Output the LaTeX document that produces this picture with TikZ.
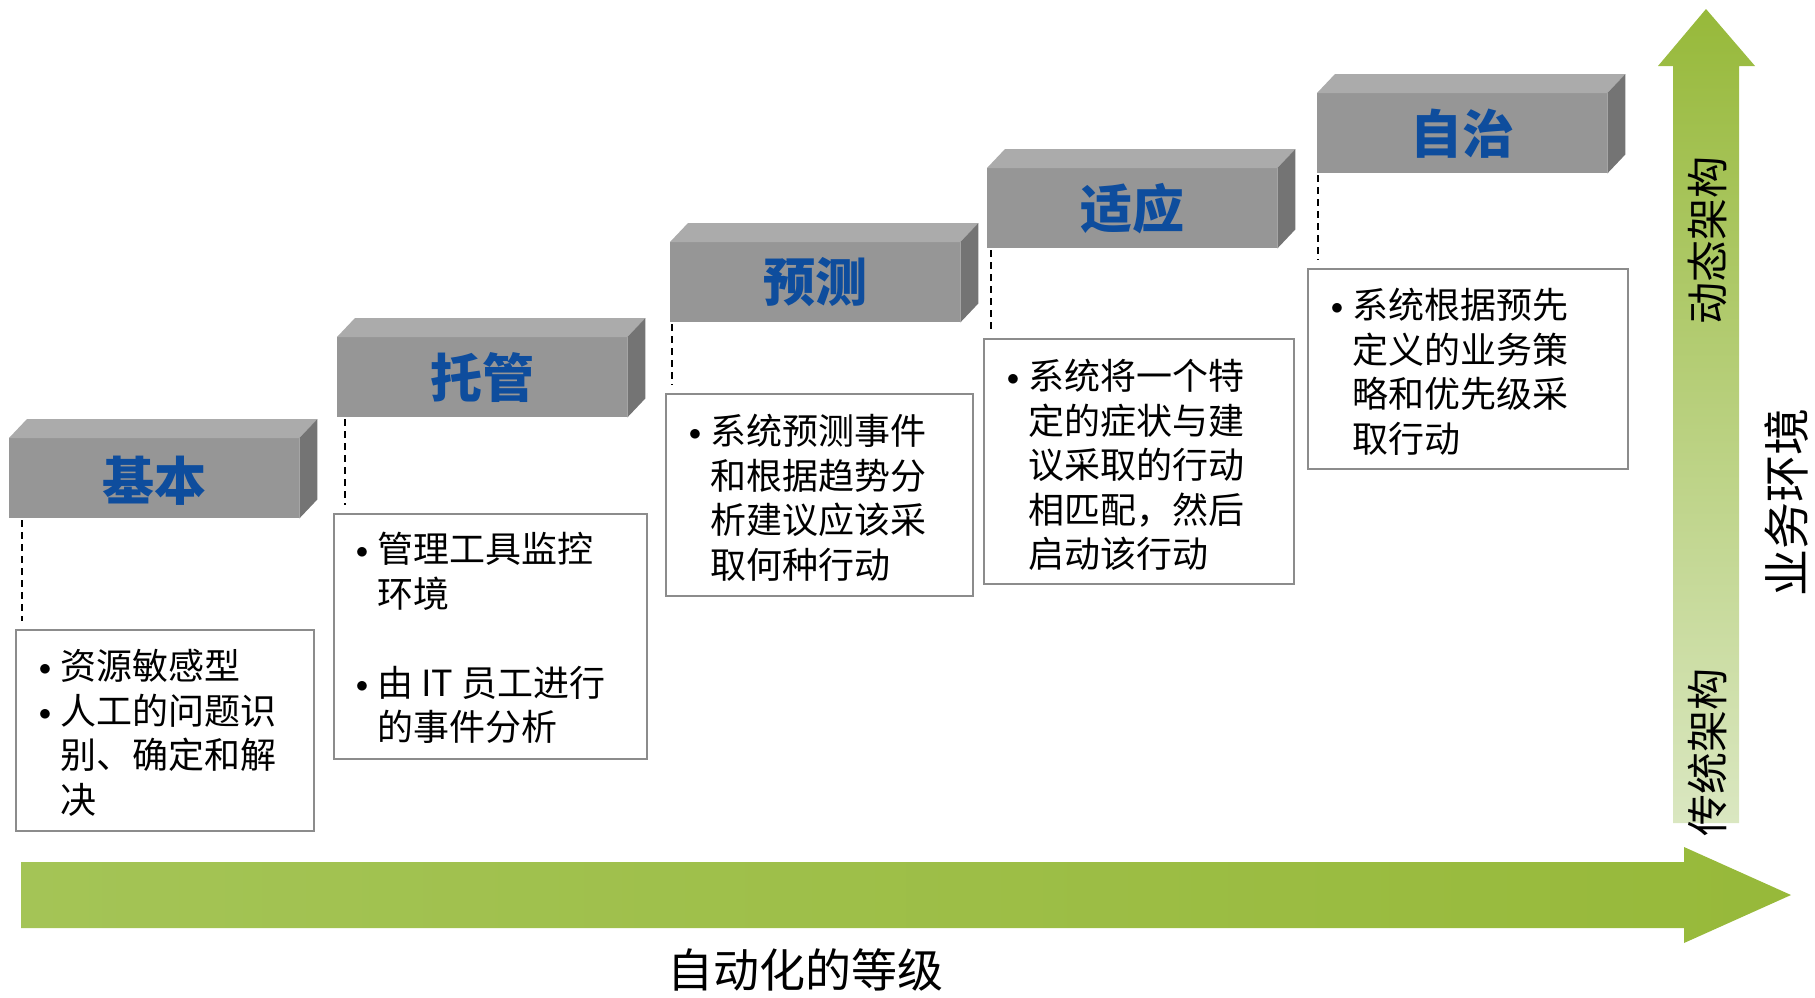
\documentclass[tikz,border=0pt]{standalone}
\usepackage{fontspec}
\newfontfamily\cjk{Noto Sans CJK SC}
\usetikzlibrary{positioning}
\definecolor{facefront}{RGB}{150,150,150}
\definecolor{facetop}{RGB}{171,171,171}
\definecolor{faceside}{RGB}{116,116,116}
\definecolor{titleblue}{RGB}{14,77,157}
\definecolor{notegray}{RGB}{140,140,140}
\definecolor{greendark}{RGB}{151,185,58}
\definecolor{greenmid}{RGB}{164,196,86}
\definecolor{greenpale}{RGB}{218,231,193}
\newcommand\itemdot{\llap{\raisebox{4pt}{$\bullet$}\hspace{9pt}}}

\begin{document}
\begin{tikzpicture}[x=1pt, y=-1pt,
stage/.style = {fill=facefront, minimum width=290, minimum height=80,
                anchor=north west, inner sep=0, text=titleblue,
                font=\cjk\bfseries\fontsize{52}{52}\selectfont},
notebox/.style = {draw=notegray, line width=1.5pt, fill=white, anchor=north west},
notetext/.style = {anchor=north west, align=left, inner sep=0,
                   font=\cjk\fontsize{36}{44.6}\selectfont},
dashlink/.style = {dash pattern=on 7pt off 5pt, line width=2pt,
                   shorten <=2pt, shorten >=8pt},
axisname/.style = {font=\cjk\fontsize{42}{42}\selectfont, rotate=90}
                        ]
\useasboundingbox (0,0) rectangle (1815,997);
% axes
\shade[top color=greendark, bottom color=greenpale]
    (1673,823) -- (1673,66) -- (1658,66) -- (1706,9) -- (1755,66) -- (1739,66) -- (1739,823) -- cycle;
\shade[left color=greenmid, right color=greendark]
    (21,862) -- (1684,862) -- (1684,847) -- (1791,895) -- (1684,943) -- (1684,928) -- (21,928) -- cycle;
\node (level)  at (805,970)  [font=\cjk\fontsize{46}{46}\selectfont] {自动化的等级};
\node (dyn)    at (1707,240) [axisname] {动态架构};
\node (trad)   at (1707,752) [axisname] {传统架构};
\node (biz)    at (1787,502) [axisname, font=\cjk\fontsize{47}{47}\selectfont] {业务环境};
% stages
\node (b1) at (9,438)    [stage, text depth=-8pt] {基本};
\node (b2) at (337,337)  [stage] {托管};
\node (b3) at (670,242)  [stage] {预测};
\node (b4) at (987,168)  [stage] {适应};
\node (b5) at (1317,93)  [stage] {自治};
\foreach \n in {b1,b2,b3,b4,b5}
{
\fill[facetop]  (\n.north west) -- ++(18,-19) -- ([shift={(18,-19)}] \n.north east) -- (\n.north east) -- cycle;
\fill[faceside] (\n.north east) -- ++(18,-19) -- ([shift={(18,-19)}] \n.south east) -- (\n.south east) -- cycle;
}
% notes
\node (t1) at (15,629)   [notebox, minimum width=298, minimum height=201] {};
\node (t2) at (333,513)  [notebox, minimum width=313, minimum height=245] {};
\node (t3) at (665,393)  [notebox, minimum width=307, minimum height=202] {};
\node (t4) at (983,338)  [notebox, minimum width=310, minimum height=245] {};
\node (t5) at (1307,268) [notebox, minimum width=320, minimum height=200] {};
%
\node (x1) at ([shift={(45,20)}] t1.north west) [notetext]
    {\itemdot 资源敏感型\\ \itemdot 人工的问题识\\ 别、确定和解\\ 决};
\node (x2) at ([shift={(44,19)}] t2.north west) [notetext]
    {\itemdot 管理工具监控\\ 环境\\[44.6pt] \itemdot 由 IT 员工进行\\ 的事件分析};
\node (x3) at ([shift={(45,21)}] t3.north west) [notetext]
    {\itemdot 系统预测事件\\ 和根据趋势分\\ 析建议应该采\\ 取何种行动};
\node (x4) at ([shift={(45,21)}] t4.north west) [notetext]
    {\itemdot 系统将一个特\\ 定的症状与建\\ 议采取的行动\\ 相匹配，然后\\ 启动该行动};
\node (x5) at ([shift={(45,20)}] t5.north west) [notetext]
    {\itemdot 系统根据预先\\ 定义的业务策\\ 略和优先级采\\ 取行动};
%
\foreach \i/\dx in {1/13, 2/8, 3/2, 4/4, 5/1}
    \draw[dashlink] ([xshift=\dx] b\i.south west) -- ([xshift=\dx] b\i.south west |- t\i.north);
    \end{tikzpicture}
\end{document}
